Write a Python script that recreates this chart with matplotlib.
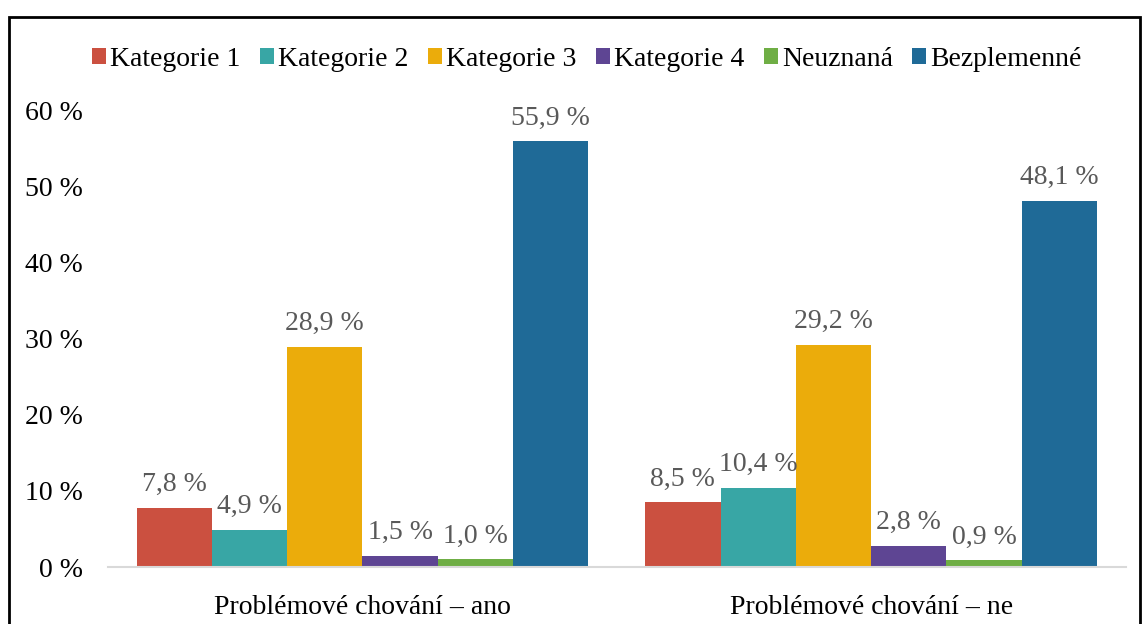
import matplotlib.pyplot as plt
import matplotlib.patches as mpatches
import numpy as np

plt.rcParams['font.family'] = ['Liberation Serif', 'DejaVu Serif']

groups = ["Problémové chování – ano", "Problémové chování – ne"]
series = ["Kategorie 1", "Kategorie 2", "Kategorie 3", "Kategorie 4", "Neuznaná", "Bezplemenné"]
values = [
    [7.8, 8.5],
    [4.9, 10.4],
    [28.9, 29.2],
    [1.5, 2.8],
    [1.0, 0.9],
    [55.9, 48.1],
]
colors = ["#cb5040", "#38a6a5", "#ebac0b", "#5e4593", "#6fae45", "#1f6a97"]
yticks = [0, 10, 20, 30, 40, 50, 60]

fig = plt.figure(figsize=(11.42, 6.24), dpi=100)
ax = fig.add_axes([0.0946, 0.0913, 0.891, 0.7324])

x = np.arange(len(groups))
w = 0.148
for i, (name, vals, c) in enumerate(zip(series, values, colors)):
    pos = x + (i - 2.5) * w
    bars = ax.bar(pos, vals, w, color=c, label=name)
    for b, v in zip(bars, vals):
        ax.text(b.get_x() + b.get_width() / 2, v + 1.4, f"{v:.1f} %".replace(".", ","),
                ha="center", va="bottom", fontsize=20, color="#595959")

ax.set_xlim(-0.5, 1.5)
ax.set_ylim(0, 60)
ax.set_yticks(yticks)
ax.set_yticklabels([f"{t} %" for t in yticks], fontsize=20)
ax.set_xticks(x)
ax.set_xticklabels(groups, fontsize=20)
ax.tick_params(length=0)
ax.tick_params(axis="x", pad=20)
ax.tick_params(axis="y", pad=18)
for s in ["top", "right", "left"]:
    ax.spines[s].set_visible(False)
ax.spines["bottom"].set_color("#d9d9d9")
ax.spines["bottom"].set_linewidth(1.5)

fig.legend(loc="center", bbox_to_anchor=(0.514, 0.905), ncol=6, frameon=False,
           fontsize=20, handlelength=0.5, handleheight=0.5, handletextpad=0.15,
           columnspacing=0.7)

fig.patches.append(mpatches.Rectangle((9 / 1142, -0.1), 1131 / 1142, 1.1 - 17 / 624,
                                      transform=fig.transFigure, fill=False,
                                      edgecolor="black", linewidth=2))

fig.savefig("out.png", dpi=100)
